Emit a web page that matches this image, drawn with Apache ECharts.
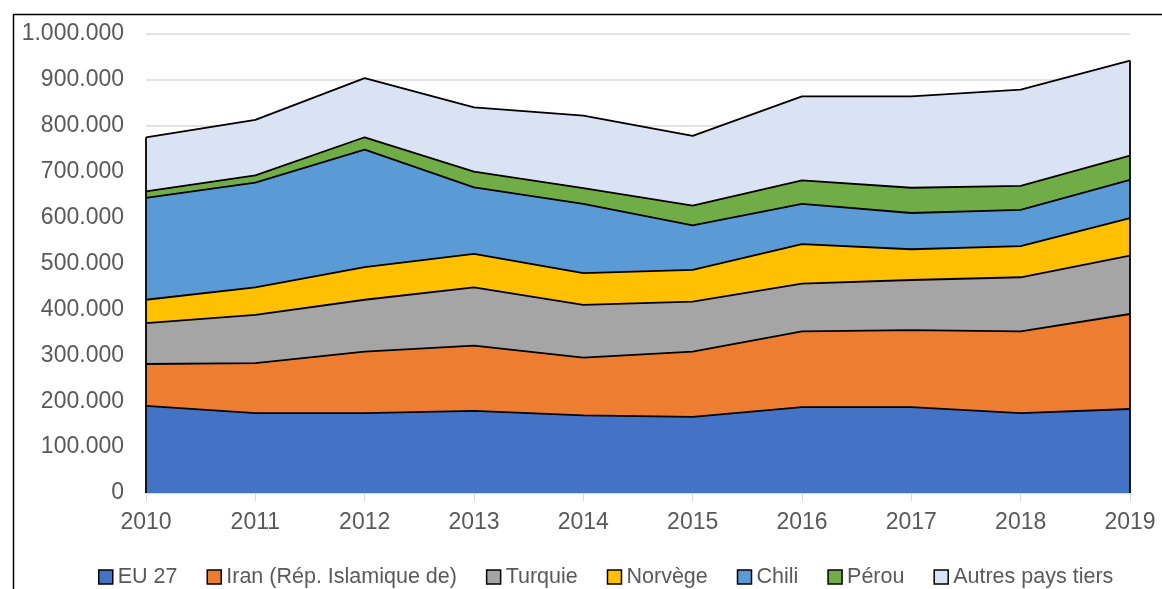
<!DOCTYPE html>
<html>
<head>
<meta charset="utf-8">
<style type="text/css">
html, body{margin:0; padding:0; background:#fff;}
#chart{width:1162px; height:589px;}
</style>
<script src="https://cdn.jsdelivr.net/npm/echarts@6/dist/echarts.min.js"></script>
</head>
<body>
<div id="chart"></div>
<script type="text/javascript">
var years = ['2010','2011','2012','2013','2014','2015','2016','2017','2018','2019'];

var eu27     = [190000, 174000, 174000, 179000, 169000, 166000, 187000, 187000, 174000, 183000];
var iran     = [ 91000, 109000, 134000, 142000, 126000, 142000, 165000, 168000, 178000, 207000];
var turquie  = [ 89000, 105000, 113000, 127000, 115000, 109000, 104000, 109000, 118000, 127000];
var norvege  = [ 51000,  60000,  71000,  73000,  69000,  69000,  86000,  67000,  68000,  82000];
var chili    = [222000, 228000, 256000, 145000, 151000,  97000,  88000,  79000,  79000,  83000];
var perou    = [ 14000,  16000,  27000,  34000,  34000,  43000,  51000,  55000,  52000,  53000];
var autres   = [118000, 121000, 129000, 140000, 158000, 152000, 183000, 199000, 210000, 207000];

var names  = ['EU 27', 'Iran (Rép. Islamique de)', 'Turquie', 'Norvège', 'Chili', 'Pérou', 'Autres pays tiers'];
var colors = ['#4472C4', '#ED7D31', '#A5A5A5', '#FFC000', '#5B9BD5', '#70AD47', '#DAE3F3'];
var values = [eu27, iran, turquie, norvege, chili, perou, autres];

// totals, used for the vertical outline at both ends of the stack
var totals = years.map(function(y, i){
    var s = 0;
    values.forEach(function(v){ s += v[i]; });
    return s;
});

function fmt(v){
    return String(v).replace(/\B(?=(\d{3})+(?!\d))/g, '.');
}

var series = names.map(function(n, k){
    var s = {
        name: n,
        type: 'line',
        stack: 'total',
        data: values[k],
        symbol: 'none',
        smooth: false,
        lineStyle: {color: '#000', width: 1.8},
        areaStyle: {color: colors[k], opacity: 1},
        itemStyle: {color: colors[k], borderColor: '#000', borderWidth: 1.5},
        emphasis: {disabled: true}
    };
    if (k === names.length - 1) {
        s.markLine = {
            silent: true,
            symbol: 'none',
            label: {show: false},
            lineStyle: {color: '#000', width: 1.8, type: 'solid'},
            data: [
                [{coord: [years[0], 0]}, {coord: [years[0], totals[0]]}],
                [{coord: [years[years.length-1], 0]}, {coord: [years[years.length-1], totals[years.length-1]]}]
            ]
        };
    }
    return s;
});

var chart = echarts.init(document.getElementById('chart'));
var option = {
    animation: false,
    backgroundColor: '#fff',
    textStyle: {fontFamily: '"Liberation Sans", Arial, sans-serif'},
    graphic: [{
        type: 'rect',
        left: 11, top: 12,
        shape: {width: 1300, height: 700},
        style: {fill: 'none', stroke: '#000', lineWidth: 1.5},
        silent: true
    }],
    grid: {left: 146, right: 32, top: 34, bottom: 96},
    legend: {
        left: 93, top: 561,
        itemWidth: 14, itemHeight: 14,
        itemGap: 29,
        icon: 'rect',
        itemStyle: {borderColor: '#000', borderWidth: 1.5},
        textStyle: {fontSize: 21.5, color: '#595959', fontFamily: '"Liberation Sans", Arial, sans-serif'},
        data: names
    },
    xAxis: {
        type: 'category',
        boundaryGap: false,
        data: years,
        axisLine: {lineStyle: {color: '#D9D9D9', width: 1}},
        axisTick: {show: true, length: 8, lineStyle: {color: '#D9D9D9'}},
        axisLabel: {fontSize: 23, color: '#595959', margin: 18}
    },
    yAxis: {
        type: 'value',
        min: 0, max: 1000000, interval: 100000,
        axisLine: {show: false},
        axisTick: {show: false},
        splitLine: {lineStyle: {color: '#D9D9D9', width: 1.5}},
        axisLabel: {fontSize: 23, color: '#595959', margin: 22, formatter: fmt}
    },
    series: series
};
chart.setOption(option);
</script>
</body>
</html>
